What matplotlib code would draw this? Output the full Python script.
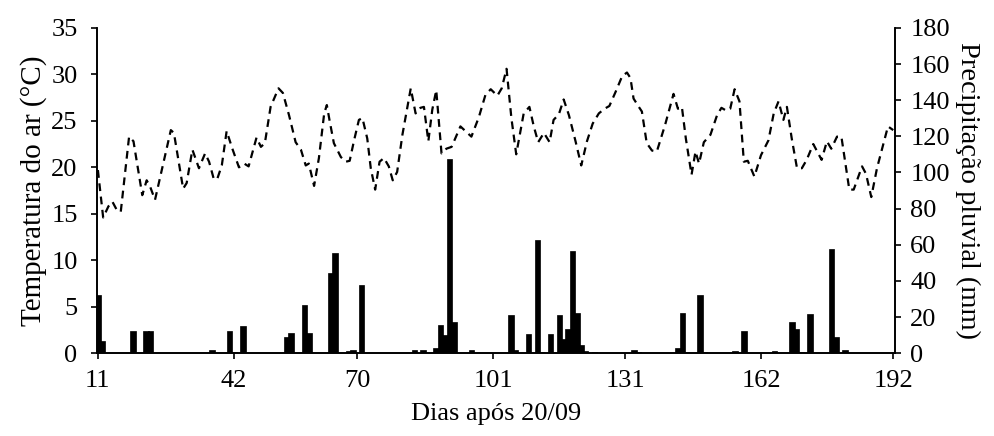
import numpy as np
import matplotlib.pyplot as plt

# Temperatura do ar (dias após 20/09, °C)
dias_temp = [11, 12.2, 13.4, 14.3, 15.2, 16.2, 18.1, 19.1, 21.1, 22.1, 22.9, 24.0,
             27.6, 28.3, 30.4, 31.2, 32.5, 34.0, 35.4, 36.3, 37.4, 38.2, 39.2, 40.3,
             41.6, 43.1, 44.3, 45.3, 47.1, 48.1, 49.0, 50.3, 52.1, 53.1, 54.5, 56.0,
             57.2, 58.3, 59.0, 60.2, 61.3, 62.5, 63.1, 63.7, 64.7, 66.3, 67.4, 68.3,
             69.3, 70.4, 71.2, 72.3, 73.1, 74.1, 75.1, 76.1, 77.2, 78.1, 79.1, 80.3,
             82.2, 83.3, 84.4, 85.2, 86.2, 87.1, 88.0, 89.2, 90.3, 91.5, 93.5, 96.0,
             97.7, 99.2, 100.4, 101.9, 102.9, 104.0, 105.1, 106.2, 107.9, 109.2, 110.2,
             111.2, 112.5, 113.8, 114.7, 115.9, 117.0, 118.2, 119.7, 121.0, 122.3,
             123.6, 125.0, 126.3, 127.4, 128.8, 130.3, 131.4, 132.2, 132.9, 134.1,
             134.8, 135.9, 137.1, 138.2, 140.1, 142.0, 143.0, 143.9, 144.8, 146.1,
             147.0, 147.8, 148.9, 150.4, 151.9, 152.9, 154.0, 154.9, 155.9, 157.0,
             158.0, 158.9, 160.4, 161.9, 163.6, 164.8, 165.9, 167.0, 167.8, 168.9,
             170.1, 171.2, 172.3, 173.8, 175.7, 176.9, 177.9, 179.2, 180.2, 182.0,
             183.0, 184.9, 185.8, 187.0, 188.3, 189.4, 190.8, 192]
temperatura = [19.7, 14.6, 15.8, 16.3, 15.5, 15.2, 23.3, 22.8, 17.0, 18.6, 17.9, 16.5,
               24.0, 23.7, 17.7, 18.3, 21.9, 19.9, 21.5, 20.6, 18.7, 18.8, 20.2, 23.9,
               22.0, 20.0, 20.4, 20.1, 23.2, 22.2, 22.6, 26.5, 28.5, 28.0, 25.6, 22.7,
               21.9, 20.2, 20.4, 18.0, 21.0, 25.8, 26.7, 25.1, 22.6, 21.1, 20.6, 20.7,
               22.9, 25.1, 25.3, 23.1, 19.9, 17.6, 20.6, 21.0, 20.1, 18.6, 19.5, 23.5,
               28.5, 25.8, 26.4, 26.5, 22.8, 26.2, 28.3, 21.5, 22.0, 22.2, 24.4, 23.3,
               25.4, 27.8, 28.4, 27.7, 28.5, 30.6, 25.3, 21.4, 25.8, 26.5, 24.4,
               22.7, 23.7, 22.7, 25.1, 25.7, 27.3, 25.6, 22.8, 20.2, 22.8,
               24.7, 25.8, 26.3, 26.6, 28.1, 29.8, 30.2, 29.6, 27.4, 26.5,
               26.0, 22.6, 21.8, 21.7, 24.6, 27.9, 26.3, 26.5, 23.1, 19.2,
               21.7, 20.4, 22.7, 23.5, 25.6, 26.4, 26.1, 26.3, 28.4, 27.1,
               20.6, 20.7, 19.0, 21.3, 22.9, 25.8, 27.1, 25.1, 26.5, 23.1,
               19.9, 19.9, 20.8, 22.5, 20.8, 22.8, 22.0, 23.3, 23.3, 17.6,
               17.6, 20.1, 19.3, 16.8, 19.9, 21.9, 24.4, 24.0]

# Precipitação pluvial (mm)
dias_chuva = [11, 12, 19, 22, 23, 37, 41, 42, 44, 45, 54, 55, 58, 59, 64, 65, 68, 69, 71,
              83, 85, 88, 89, 90, 91, 92, 96, 105, 106, 109, 111, 112, 114, 116, 117,
              118, 119, 120, 121, 122, 124, 133, 134, 143, 144, 145, 148, 149, 156,
              158, 159, 165, 169, 170, 171, 173, 174, 178, 179, 181]
chuva = [32.3, 6.5, 12, 12, 12, 1.8, 12, 0.8, 15.1, 0.3, 9.2, 11.4, 26.4, 11.4, 44.3,
         55.7, 1.0, 1.5, 37.8, 1.8, 1.5, 2.8, 15.7, 10.1, 107.6, 17.0, 1.8, 21.2, 1.8,
         10.5, 62.4, 0.8, 10.5, 21.2, 7.7, 13.3, 56.8, 22.5, 4.6, 1.0, 0.5, 2.0, 0.8,
         3.1, 22.3, 0.5, 32.3, 0.5, 1.0, 12.2, 0.3, 1.0, 17.5, 13.3, 0.5, 21.6, 0.3,
         57.6, 9.2, 2.0]

ticks_x = [11, 42, 70, 101, 131, 162, 192]

plt.rcParams['font.family'] = ['Liberation Serif', 'DejaVu Serif']
plt.rcParams['font.size'] = 19

fig = plt.figure(figsize=(9.95, 4.36), dpi=100)
ax = fig.add_axes([0.0975, 0.19, 0.802, 0.746])
ax2 = ax.twinx()

# barras (eixo da direita)
ax2.bar(dias_chuva, chuva, width=1.25, color='black', edgecolor='black', linewidth=0.5)
ax2.set_ylim(0, 180)
ax2.set_yticks(np.arange(0, 181, 20))
ax2.set_ylabel('Precipitação pluvial (mm)', rotation=270, labelpad=22, fontsize=20.5)

# linha de temperatura por cima das barras
ax.set_zorder(ax2.get_zorder() + 1)
ax.patch.set_visible(False)
ax.plot(dias_temp, temperatura, color='black', linestyle=(0, (3.5, 2.5)), linewidth=1.6)
ax.set_ylim(0, 35)
ax.set_yticks(np.arange(0, 36, 5))
ax.set_ylabel('Temperatura do ar (°C)', labelpad=3, fontsize=21)

ax.set_xlim(10.8, 192.4)
ax.set_xticks(ticks_x)
ax.set_xlabel('Dias após 20/09', labelpad=8, fontsize=19)

for a in (ax, ax2):
    a.spines['top'].set_visible(False)
    for s in ('left', 'right', 'bottom'):
        a.spines[s].set_linewidth(1.2)
    a.tick_params(direction='out', length=4, width=1.2, labelsize=19)
ax.tick_params(axis='y', pad=10)
ax.tick_params(axis='x', pad=8)
ax2.tick_params(axis='y', pad=7)

fig.savefig('out.png', dpi=100)
